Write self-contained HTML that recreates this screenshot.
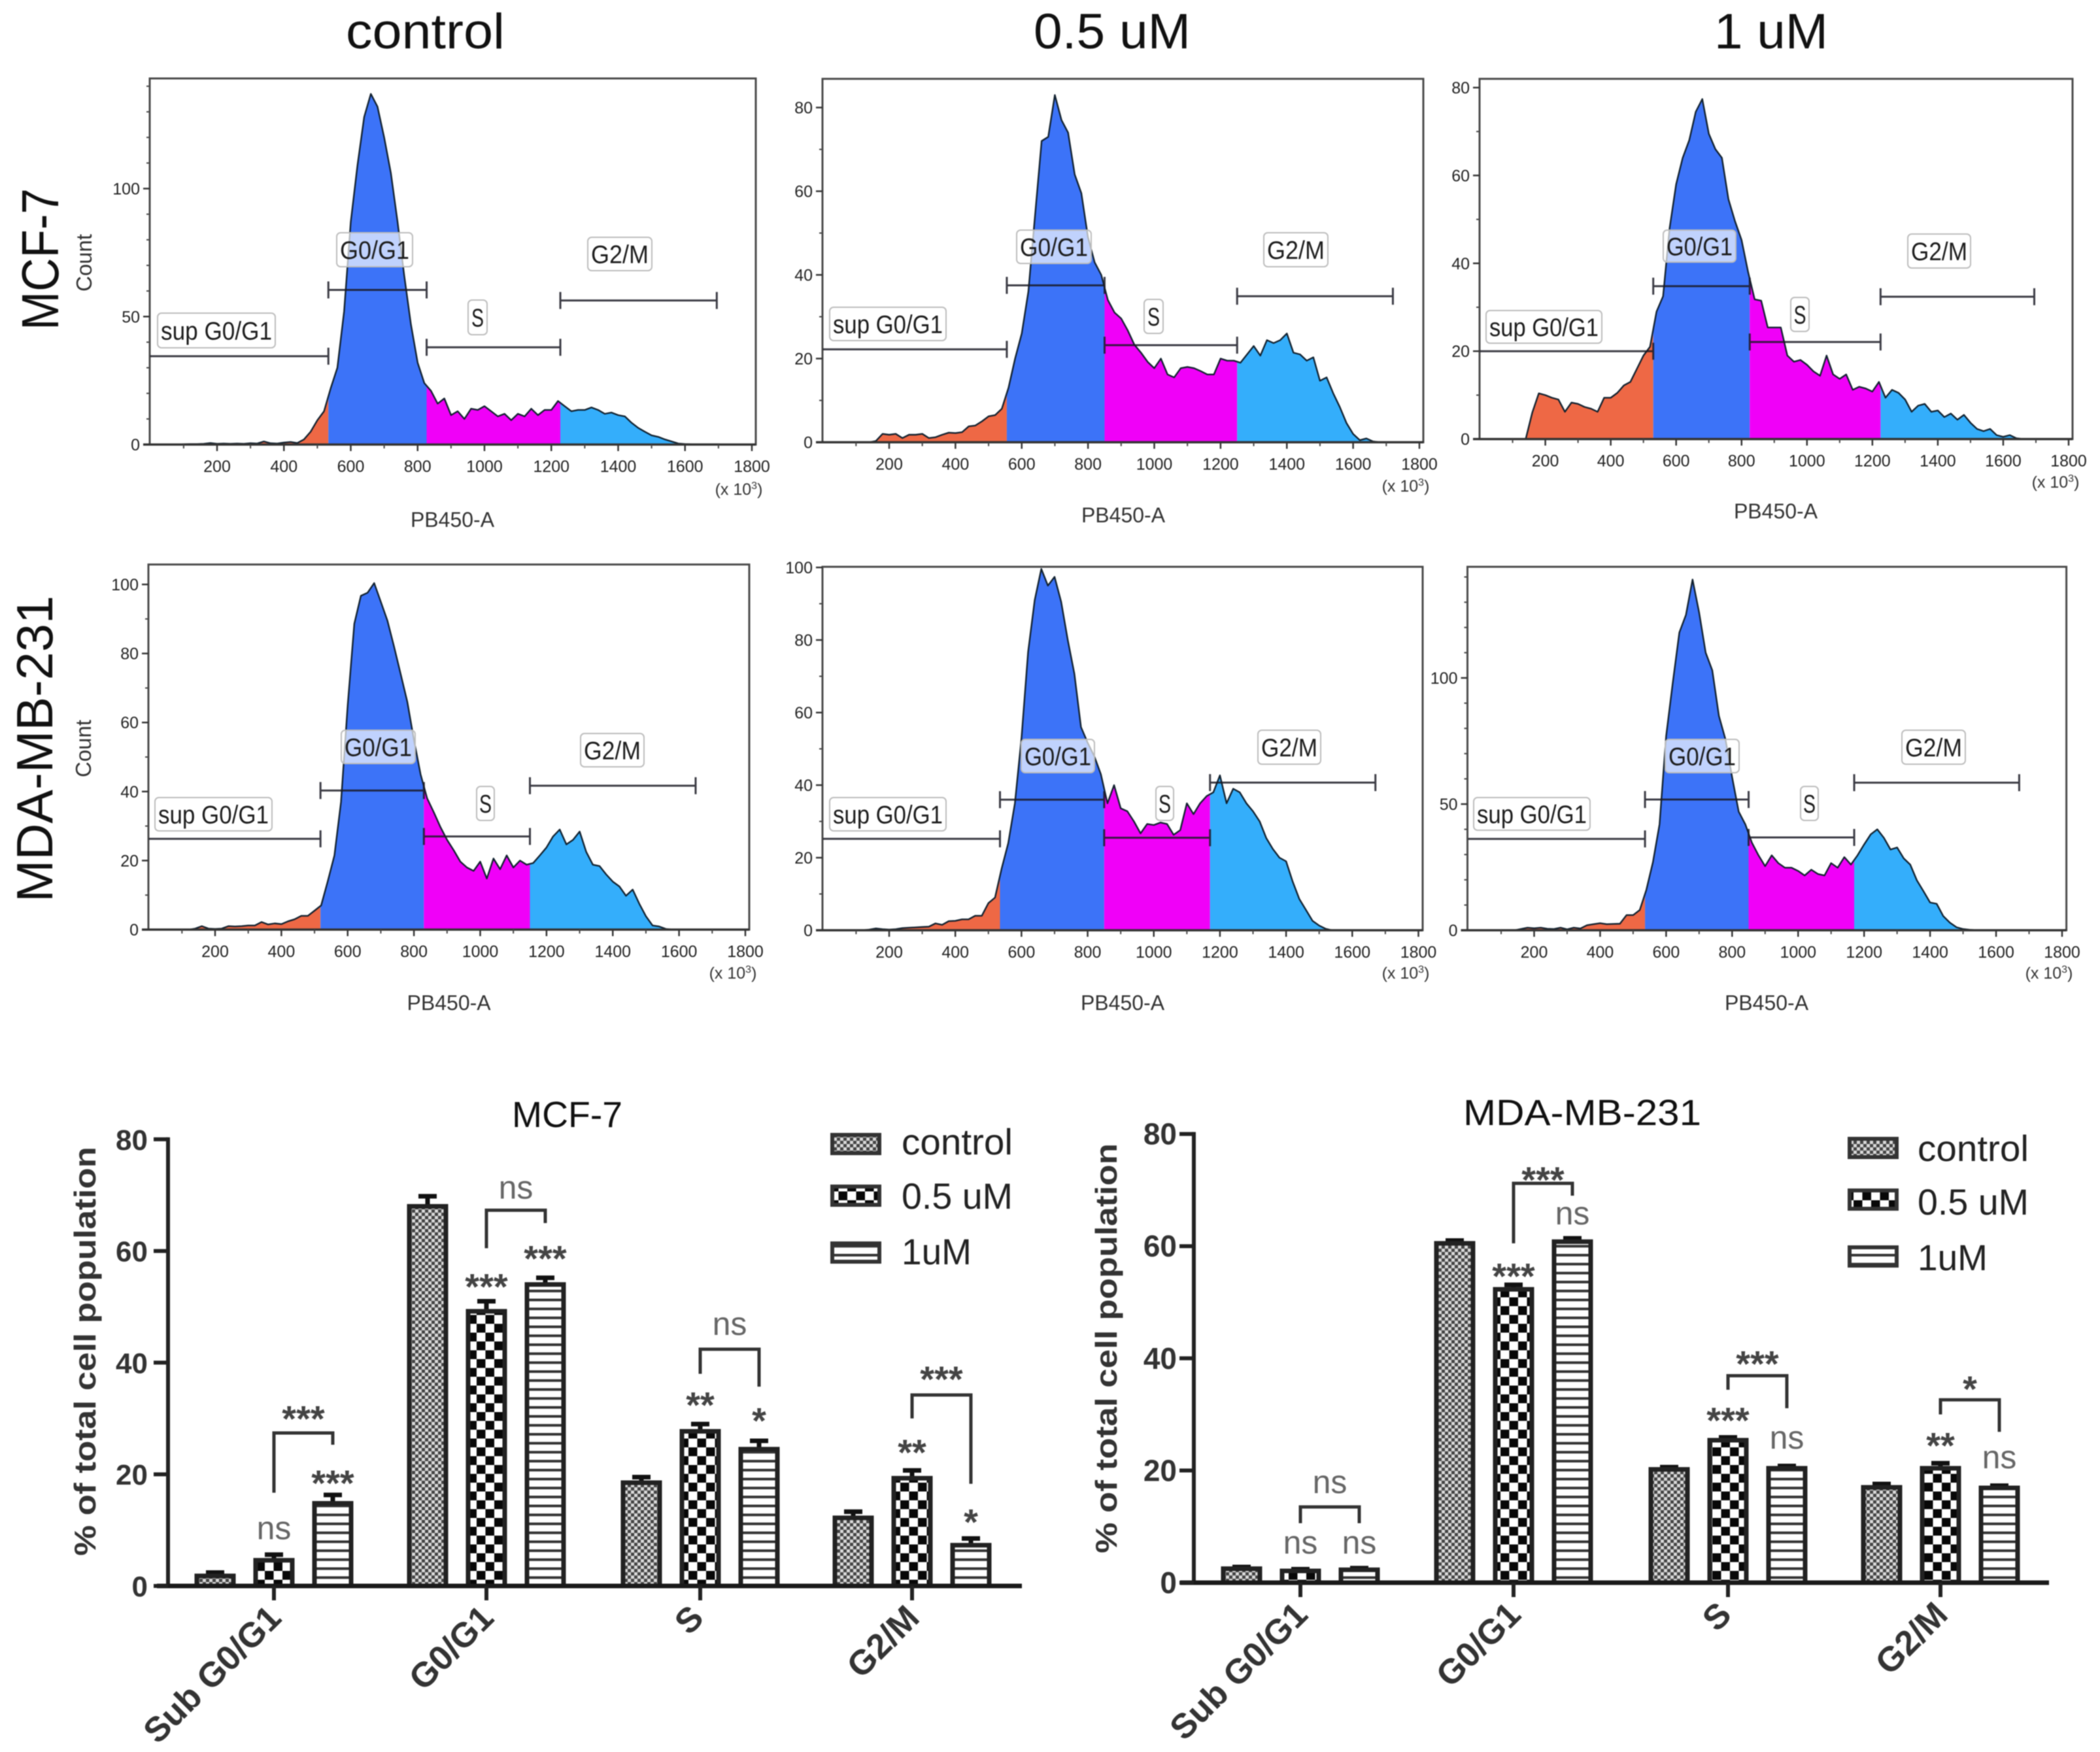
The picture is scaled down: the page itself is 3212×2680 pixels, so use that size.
<!DOCTYPE html>
<html lang="en">
<head>
<meta charset="utf-8">
<title>Cell cycle flow cytometry histograms and population bar charts</title>
<style>
html,body{margin:0;padding:0;background:#fff;}
#figure{display:block;width:3212px;height:2680px;filter:blur(0.7px);font-family:"Liberation Sans",sans-serif;}
</style>
</head>
<body>
<svg id="figure" xmlns="http://www.w3.org/2000/svg" width="3212" height="2680" viewBox="0 0 3212 2680">
<defs>
<pattern id="pat-control" patternUnits="userSpaceOnUse" width="10" height="10"><rect width="10" height="10" fill="#d8d8d8"/><rect width="5" height="5" fill="#444"/><rect x="5" y="5" width="5" height="5" fill="#444"/></pattern>
<pattern id="pat-half" patternUnits="userSpaceOnUse" width="27" height="27"><rect width="27" height="27" fill="#fff"/><rect width="13.5" height="13.5" fill="#080808"/><rect x="13.5" y="13.5" width="13.5" height="13.5" fill="#080808"/></pattern>
<pattern id="pat-one" patternUnits="userSpaceOnUse" width="14" height="13.7"><rect width="14" height="13.7" fill="#fff"/><rect width="14" height="4" fill="#333"/></pattern>
</defs>
<rect width="3212" height="2680" fill="#fff"/>
<text x="529" y="74" font-size="76" textLength="243" lengthAdjust="spacingAndGlyphs" fill="#111">control</text>
<text x="1581" y="74" font-size="76" textLength="240" lengthAdjust="spacingAndGlyphs" fill="#111">0.5 uM</text>
<text x="2622" y="74" font-size="76" textLength="174" lengthAdjust="spacingAndGlyphs" fill="#111">1 uM</text>
<text transform="translate(89 505) rotate(-90)" font-size="80" textLength="217" lengthAdjust="spacingAndGlyphs" fill="#111">MCF-7</text>
<text transform="translate(80 1380) rotate(-90)" font-size="78" textLength="469" lengthAdjust="spacingAndGlyphs" fill="#111">MDA-MB-231</text>
<text transform="translate(140 446) rotate(-90)" font-size="33" fill="#333">Count</text>
<text transform="translate(139 1189) rotate(-90)" font-size="33" fill="#333">Count</text>
<g id="histograms"></g>
<g id="bars"></g>
</svg>
<script>
// ---- Histogram data: counts per 20k-wide PB450-A bin, starting at 0 ----
var binWidth = 20;
var panelACounts = [
0,0,0,0,0,.1,.2,.2,.3,.6,
.3,.4,.3,.4,.3,.5,.4,1.2,.5,.4,
.8,1,.6,2,5,9.5,13,22,30,52,
87,109,128,137,132,120,106,87,66,47,
32,24,21,16,18,11.5,13,10,14,13.5,
15,13,11,12,9.5,12,11,14,11.5,13.5,
13.5,17,15,13,13.5,13.5,14.5,13.5,12,12.5,
11.5,11,8.5,6.5,5,3.6,3,2,1.2,.4,
.2,.1,.1,.1,.1,.1,0,0,0,0,
0];
var panelBCounts = [
0,0,0,0,0,0,0,0,.3,2,
1.8,2,1,1.8,1.8,2,1,1.2,1.8,2.3,
2.2,2.4,3.8,4,5,6.2,6.5,8,13,20,
26,36,54,72,73,83,77,74,64,59.5,
49,43,40,34,31,29.6,26.7,23.3,21.4,19.2,
17.7,20,16.2,15.5,17.7,18,17.7,17,16.2,16.2,
20,19.5,19.5,19,21,23,20.7,24.4,23.7,24.4,
26,21.4,21,19.5,20.3,14.7,15.5,11.7,8.4,4.6,
2,.5,.9,.2,0,0,0,0,0,0,
0];
var panelCCounts = [
0,0,0,0,0,0,0,0,6,10.4,
10,9.4,9,6.2,8.3,8,7.3,6.9,6.2,9.4,
9.4,10.5,12.2,13,16,19,21,29,32.5,48,
58,64,68,74.5,77.4,69.5,66,64,54.6,49.6,
45.3,38,31.8,31.5,25.4,25.4,25.4,19,17.6,18,
16.9,15.4,14.4,19,14.7,13.7,14.7,11.2,11.9,11.5,
10.8,13,9.4,11.2,10.5,9,6.2,7.6,8,6.2,
6.5,5,5.8,4.4,5.5,3.7,2.3,1.8,2.3,.9,
.5,.9,.2,0,0,0,0,0,0,0,
0];
var panelDCounts = [
0,0,0,0,0,0,0,.3,1,.3,
.2,.3,1,.9,1,1.2,1.2,2.2,1.5,1.8,
1.6,2.4,3,4,4,5.5,7,14,21.5,37,
65,88.6,96.7,97.6,100.4,95,89.5,82,74,66,
55,45,38,34,29.7,26,23,19.7,18,17,
19.7,14.8,20.6,17.5,21.5,18,20,18.8,19.3,21.5,
23.8,27,29,24.7,26,28.4,22.5,18.8,18.4,16,
13.9,12.5,9.8,11.6,7.5,3.9,1.2,.9,.2,0,
0,0,0,0,0,0,0,0,0,0,
0];
var panelECounts = [
0,0,0,0,0,0,0,.2,.5,.3,
.2,.3,.6,.7,.8,.9,1,1.9,1.5,2.5,
2.6,3,3,4,4,7.5,9,17,24,35,
53,76.7,91,99.6,95,97.4,90.5,80,70.7,56,
51.7,48,43,35,40,33.6,32.8,30,26.7,29.3,
29,29.7,29.3,26.3,27.6,35,32,35,37,38,
42.7,35,39,38,35,32.8,30,25.4,22.4,20,
19,13.4,8.6,5.6,2.6,1.3,.4,0,0,0,
0,0,0,0,0,0,0,0,0,0,
0];
var panelFCounts = [
0,0,0,0,0,0,0,0,.5,1,
.8,1,.6,.5,1,.4,1,.7,2,2.4,
2.8,2.4,2.5,2.6,6,6,8,16,27,42,
77,98,118,125,139,126,110,103,85,75.6,
60.7,47,42,34.7,29.7,25.4,29.7,26.6,24.8,24.8,
23.5,21.7,24,22.3,21.7,26.6,24.8,29,26,29.7,
34,38,40,36.6,32,32.8,28.5,26,19.8,15.5,
11,10.5,5.6,3,1.2,.5,.2,0,0,0,
0,0,0,0,0,0,0,0,0,0,
0];
// Gates: [start, end, height in counts]
var panelAGates = [[0,533,34.5],[533,827,60.4],[827,1227,38],[1227,1695,56.3]];
var panelBGates = [[0,555,22.2],[555,850,37.5],[850,1250,23.2],[1250,1720,34.9]];
var panelCGates = [[0,530,20],[530,825,34.8],[825,1225,22.1],[1225,1695,32.4]];
var panelDGates = [[0,518,26.3],[518,830,40.3],[830,1150,27],[1150,1650,41.7]];
var panelEGates = [[0,535,25.2],[535,850,36],[850,1170,25.5],[1170,1670,40.7]];
var panelFGates = [[0,536,36.2],[536,850,51.8],[850,1170,36.8],[1170,1670,58.5]];
var gateNames = ["sup G0/G1","G0/G1","S","G2/M"];
var xTickLabels = [200,400,600,800,1000,1200,1400,1600,1800];
var xMinorTicks = [100,300,500,700,900,1100,1300,1500,1700];
var panelAYTicks = [0,50,100];
var panelBYTicks = [0,20,40,60,80];
var panelCYTicks = [0,20,40,60,80];
var panelDYTicks = [0,20,40,60,80,100];
var panelEYTicks = [0,20,40,60,80,100];
var panelFYTicks = [0,50,100];
var regionColors = ["#ee6845","#3c73f8","#f000f8","#34aefb"];

// ---- Bar chart data ----
var barCategories = ["Sub G0/G1","G0/G1","S","G2/M"];
var seriesNames = ["control","0.5 uM","1uM"];
var mcfControl = [1.8,68,18.5,12.2];
var mcfHalf = [4.6,49.2,27.7,19.3];
var mcfOne = [14.8,54,24.5,7.3];
var mcfControlErr = [.6,1.8,1,1.1];
var mcfHalfErr = [1,1.8,1.3,1.4];
var mcfOneErr = [1.5,1.2,1.5,1.2];
var mdaControl = [2.5,60.5,20.2,17];
var mdaHalf = [2.1,52.3,25.4,20.4];
var mdaOne = [2.3,60.8,20.4,16.9];
var mdaControlErr = [.3,.5,.4,.6];
var mdaHalfErr = [.3,.8,.5,.9];
var mdaOneErr = [.3,.6,.4,.4];
var barYTicks = [0,20,40,60,80];
// Brackets: [category, from level, top level, to level, label, label level]
var mcfBrackets = [[0,16.7,27.4,25.3,"***",31.3],[1,60.5,67.3,65,"ns",71],[2,38,42.4,35.7,"ns",46.6],[3,30,34.2,18.3,"***",38.4]];
var mdaBrackets = [[0,10.6,13.5,10.6,"ns",17.6],[1,60.5,71.2,69,"***",73.2],[2,34.4,36.9,31.1,"***",40.4],[3,30,32.6,26.9,"*",35.9]];
// Significance marks: [category, series, label, level]
var mcfMarks = [[0,1,"ns",10],[0,2,"***",19.8],[1,1,"***",55],[1,2,"***",60],[2,1,"**",33.8],[2,2,"*",31],[3,1,"**",25.3],[3,2,"*",12.8]];
var mdaMarks = [[0,1,"ns",6.8],[0,2,"ns",6.8],[1,1,"***",56],[1,2,"ns",65.5],[2,1,"***",30.3],[2,2,"ns",25.5],[3,1,"**",25.8],[3,2,"ns",22]];

// ---- Layout (not data) ----
var panels = [
{id:"a",title:"mcf-7-control",counts:panelACounts,gates:panelAGates,yTicks:panelAYTicks,yMinorMax:140,l:229,r:1156,t:120,y0:680,x200:332,x1800:1150,pxPerCount:3.915,xlab:[692,806],mult:[1130,757],
 boxes:[[241,421,479,532],[515,631,356,408],[716,745,459,512],[899,997,363,414]]},
{id:"b",title:"mcf-7-0-5-um",counts:panelBCounts,gates:panelBGates,yTicks:panelBYTicks,yMinorMax:80,l:1258,r:2177,t:120.6,y0:676.5,x200:1360,x1800:2171,pxPerCount:6.4,xlab:[1718,799],mult:[2150,752],
 boxes:[[1269,1447,470,521],[1555,1669,352,403],[1750,1779,458,510],[1933,2031,356,408]]},
{id:"c",title:"mcf-7-1-um",counts:panelCCounts,gates:panelCGates,yTicks:panelCYTicks,yMinorMax:80,l:2263,r:3170,t:120.6,y0:671.6,x200:2363.6,x1800:3164,pxPerCount:6.72,xlab:[2716,793],mult:[3144,746],
 boxes:[[2273,2450,475,525],[2544,2655,352,401],[2739,2767,455,507],[2918,3014,358,410]]},
{id:"d",title:"mda-mb-231-control",counts:panelDCounts,gates:panelDGates,yTicks:panelDYTicks,yMinorMax:100,l:227,r:1146,t:863.5,y0:1422,x200:329,x1800:1140,pxPerCount:5.28,xlab:[686.6,1545],mult:[1121,1497],
 boxes:[[237,416,1220,1271],[522,635,1117,1168],[729,756,1203,1255],[888,985,1122,1173]]},
{id:"e",title:"mda-mb-231-0-5-um",counts:panelECounts,gates:panelEGates,yTicks:panelEYTicks,yMinorMax:100,l:1258,r:2176,t:867,y0:1423,x200:1360,x1800:2169.5,pxPerCount:5.55,xlab:[1717,1545],mult:[2150,1497],
 boxes:[[1269,1447,1220,1271],[1562,1674,1131,1182],[1768,1795,1203,1255],[1924,2020,1117,1169]]},
{id:"f",title:"mda-mb-231-1-um",counts:panelFCounts,gates:panelFGates,yTicks:panelFYTicks,yMinorMax:140,l:2244.5,r:3160.6,t:867,y0:1423,x200:2346.5,x1800:3154,pxPerCount:3.86,xlab:[2702,1545],mult:[3134,1497],
 boxes:[[2254,2432,1220,1270],[2547,2660,1131,1182],[2754,2781,1203,1255],[2909,3006,1117,1169]]}
];
var barCharts = [
{id:"mcf-7",title:"MCF-7",titleX:783,titleLen:169,titleY:1724,axisX:257,axisL:240,axisR:1563,y0:2426,pxPerUnit:8.54,groupCenters:[419,744,1071,1395],
 tickFont:44,tickRight:226,ytitle:[146,2380,626],
 series:[mcfControl,mcfHalf,mcfOne],errs:[mcfControlErr,mcfHalfErr,mcfOneErr],brackets:mcfBrackets,marks:mcfMarks,
 legendX:1270,legendTextX:1379,legendY:[1733,1812,1899],legendBase:[1766,1849,1934]},
{id:"mda-mb-231",title:"MDA-MB-231",titleX:2238,titleLen:364,titleY:1721,axisX:1826,axisL:1805,axisR:3134,y0:2421,pxPerUnit:8.58,groupCenters:[1989,2315,2643,2968],
 tickFont:46,tickRight:1800,ytitle:[1708,2376,627],
 series:[mdaControl,mdaHalf,mdaOne],errs:[mdaControlErr,mdaHalfErr,mdaOneErr],brackets:mdaBrackets,marks:mdaMarks,
 legendX:2826,legendTextX:2933,legendY:[1739,1818,1905],legendBase:[1776,1858,1943]}
];
var barFills = ["url(#pat-control)","url(#pat-half)","url(#pat-one)"];
var legendLens = [170,170,107];

// ---- Helpers ----
var NS = "http://www.w3.org/2000/svg";
function add(parent, tag, attrs, txt){
  var el = document.createElementNS(NS, tag);
  for (var k in attrs) el.setAttribute(k, attrs[k]);
  if (txt !== undefined) el.textContent = txt;
  parent.appendChild(el);
  return el;
}
function slug(s){ return String(s).toLowerCase().replace(/[^a-z0-9]+/g,"-").replace(/^-|-$/g,""); }
function histX(p, v){ return p.x200 + (v - 200) * (p.x1800 - p.x200) / 1600; }
function histY(p, c){ return p.y0 - c * p.pxPerCount; }

// ---- Histograms ----
var histRoot = document.getElementById("histograms");
panels.forEach(function(p){
  var g = add(histRoot, "g", {});
  
  
  var pts = p.counts.map(function(c, i){ return histX(p, i * binWidth).toFixed(1) + "," + histY(p, c).toFixed(1); });
  var areaD = "M" + histX(p, 0).toFixed(1) + "," + p.y0 + "L" + pts.join("L") + "L" + histX(p, (p.counts.length - 1) * binWidth).toFixed(1) + "," + p.y0 + "Z";
  var defs = add(g, "defs", {});
  p.gates.forEach(function(gt, i){
    var start = i === 0 ? 0 : gt[0];
    var end = i === 3 ? 1800 : gt[1];
    var cp = add(defs, "clipPath", {id: "clip-" + p.id + i});
    add(cp, "rect", {x: histX(p, start), y: p.t, width: histX(p, end) - histX(p, start), height: p.y0 - p.t});
    var region = add(g, "path", {d: areaD, fill: regionColors[i], "clip-path": "url(#clip-" + p.id + i + ")"});
    
    
  });
  var outline = add(g, "polyline", {points: pts.join(" "), fill: "none", stroke: "#10202e", "stroke-width": 2.4, "stroke-linejoin": "round"});
  
  
  // frame
  var frame = add(g, "rect", {x: p.l, y: p.t, width: p.r - p.l, height: p.y0 - p.t, fill: "none", stroke: "#4a4a4a", "stroke-width": 3});
  
  
  add(g, "line", {x1: p.l - 10, x2: p.r, y1: p.y0, y2: p.y0, stroke: "#333", "stroke-width": 3.5});
  // x ticks
  xTickLabels.forEach(function(v){
    var x = histX(p, v);
    add(g, "line", {x1: x, x2: x, y1: p.y0, y2: p.y0 + 10, stroke: "#333", "stroke-width": 2.5});
    var t = add(g, "text", {x: x, y: p.y0 + 42, "font-size": 25, "text-anchor": "middle", fill: "#222"}, String(v));
    
    
  });
  xMinorTicks.forEach(function(v){
    var x = histX(p, v);
    add(g, "line", {x1: x, x2: x, y1: p.y0, y2: p.y0 + 6, stroke: "#444", "stroke-width": 2});
  });
  // y ticks
  for (var m = 10; m <= p.yMinorMax; m += 10) {
    add(g, "line", {x1: p.l - 5, x2: p.l, y1: histY(p, m), y2: histY(p, m), stroke: "#444", "stroke-width": 2});
  }
  p.yTicks.forEach(function(v){
    var y = histY(p, v);
    add(g, "line", {x1: p.l - 10, x2: p.l, y1: y, y2: y, stroke: "#333", "stroke-width": 2.5});
    var t = add(g, "text", {x: p.l - 15, y: y + 9, "font-size": 25, "text-anchor": "end", fill: "#222"}, String(v));
    
    
  });
  // gates and labels
  p.gates.forEach(function(gt, i){
    var gy = histY(p, gt[2]), x1 = histX(p, gt[0]), x2 = histX(p, gt[1]);
    var gate = add(g, "path", {d: "M" + x1 + "," + (i === 0 ? gy : gy - 13) + "V" + (i === 0 ? gy : gy + 13) + "M" + x1 + "," + gy + "H" + x2 + "M" + x2 + "," + (gy - 13) + "V" + (gy + 13), fill: "none", stroke: "rgba(25,25,35,0.85)", "stroke-width": 3});
    
    
    var b = p.boxes[i];
    var box = add(g, "rect", {x: b[0], y: b[2], width: b[1] - b[0], height: b[3] - b[2], rx: 6, fill: "rgba(255,255,255,0.68)", stroke: "#bcbcbc", "stroke-width": 2});
    
    
    var lab = add(g, "text", {x: (b[0] + b[1]) / 2, y: (b[2] + b[3]) / 2 + 14, "font-size": 39, "text-anchor": "middle", fill: "#1c1c1c", textLength: i === 2 ? 19 : b[1] - b[0] - 10, lengthAdjust: "spacingAndGlyphs"}, gateNames[i]);
    
    
  });
  var xt = add(g, "text", {x: p.xlab[0], y: p.xlab[1], "font-size": 32, "text-anchor": "middle", fill: "#333"}, "PB450-A");
  
  
  var mu = add(g, "text", {x: p.mult[0], y: p.mult[1], "font-size": 25, "text-anchor": "middle", fill: "#333"});
  
  
  add(mu, "tspan", {}, "(x 10");
  add(mu, "tspan", {dy: -9, "font-size": 16}, "3");
  add(mu, "tspan", {dy: 9}, ")");
});

// ---- Bar charts ----
var barRoot = document.getElementById("bars");
barCharts.forEach(function(c){
  var g = add(barRoot, "g", {});
  
  
  function yAt(v){ return c.y0 - v * c.pxPerUnit; }
  function xAt(cat, s){ return c.groupCenters[cat] + (s - 1) * 90; }
  var title = add(g, "text", {x: c.titleX, y: c.titleY, "font-size": 56, textLength: c.titleLen, lengthAdjust: "spacingAndGlyphs", fill: "#111"}, c.title);
  
  
  // bars
  c.series.forEach(function(vals, s){
    vals.forEach(function(v, cat){
      var x = xAt(cat, s), y = yAt(v), e = yAt(v + c.errs[s][cat]);
      var err = add(g, "path", {d: "M" + x + "," + y + "V" + e + "M" + (x - 14) + "," + e + "H" + (x + 14), fill: "none", stroke: "#111", "stroke-width": 7});
      
      
      var bar = add(g, "rect", {x: x - 28, y: y, width: 56, height: Math.max(0, c.y0 - y), fill: barFills[s], stroke: "#222", "stroke-width": 7});
      
      
    });
  });
  // axes
  var ya = add(g, "line", {x1: c.axisX, x2: c.axisX, y1: yAt(80) - 3, y2: c.y0, stroke: "#222", "stroke-width": 6});
  
  
  var xa = add(g, "line", {x1: c.axisL, x2: c.axisR, y1: c.y0, y2: c.y0, stroke: "#1a1a1a", "stroke-width": 7});
  
  
  barYTicks.forEach(function(v){
    add(g, "line", {x1: c.axisX - 22, x2: c.axisX, y1: yAt(v), y2: yAt(v), stroke: "#222", "stroke-width": 6});
    var t = add(g, "text", {x: c.tickRight, y: yAt(v) + 16, "font-size": c.tickFont, "font-weight": "bold", "text-anchor": "end", fill: "#333"}, String(v));
    
    
  });
  var yt = add(g, "text", {transform: "translate(" + c.ytitle[0] + " " + c.ytitle[1] + ") rotate(-90)", "font-size": 46, "font-weight": "bold", textLength: c.ytitle[2], lengthAdjust: "spacingAndGlyphs", fill: "#333"}, "% of total cell population");
  
  
  barCategories.forEach(function(name, cat){
    var x = c.groupCenters[cat];
    add(g, "line", {x1: x, x2: x, y1: c.y0, y2: c.y0 + 22, stroke: "#222", "stroke-width": 6});
    var ax = x + 14 - (name === "S" ? 6 : 0), ay = c.y0 + 52;
    var t = add(g, "text", {transform: "translate(" + ax + " " + ay + ") rotate(-45)", "font-size": 53, "font-weight": "bold", "text-anchor": "end", fill: "#333"}, name);
    
    
  });
  // brackets
  c.brackets.forEach(function(b){
    var x1 = xAt(b[0], 1), x2 = xAt(b[0], 2);
    var br = add(g, "path", {d: "M" + x1 + "," + yAt(b[1]) + "V" + yAt(b[2]) + "H" + x2 + "V" + yAt(b[3]), fill: "none", stroke: "#333", "stroke-width": 5});
    
    
    var isNs = b[4] === "ns";
    var t = add(g, "text", {x: (x1 + x2) / 2, y: yAt(b[5]) + (isNs ? 14 : 31), "font-size": isNs ? 50 : 56, "font-weight": isNs ? "normal" : "bold", "text-anchor": "middle", fill: isNs ? "#666" : "#444"}, b[4]);
    
    
  });
  c.marks.forEach(function(m){
    var isNs = m[2] === "ns";
    var t = add(g, "text", {x: xAt(m[0], m[1]), y: yAt(m[3]) + (isNs ? 14 : 31), "font-size": isNs ? 50 : 56, "font-weight": isNs ? "normal" : "bold", "text-anchor": "middle", fill: isNs ? "#666" : "#444"}, m[2]);
    
    
  });
  // legend
  seriesNames.forEach(function(name, s){
    var sw = add(g, "rect", {x: c.legendX + 3, y: c.legendY[s] + 3, width: 72, height: 28, fill: barFills[s], stroke: "#333", "stroke-width": 6});
    
    
    var t = add(g, "text", {x: c.legendTextX, y: c.legendBase[s], "font-size": 56, textLength: legendLens[s], lengthAdjust: "spacingAndGlyphs", fill: "#222"}, name);
    
    
  });
});
</script>
</body>
</html>
